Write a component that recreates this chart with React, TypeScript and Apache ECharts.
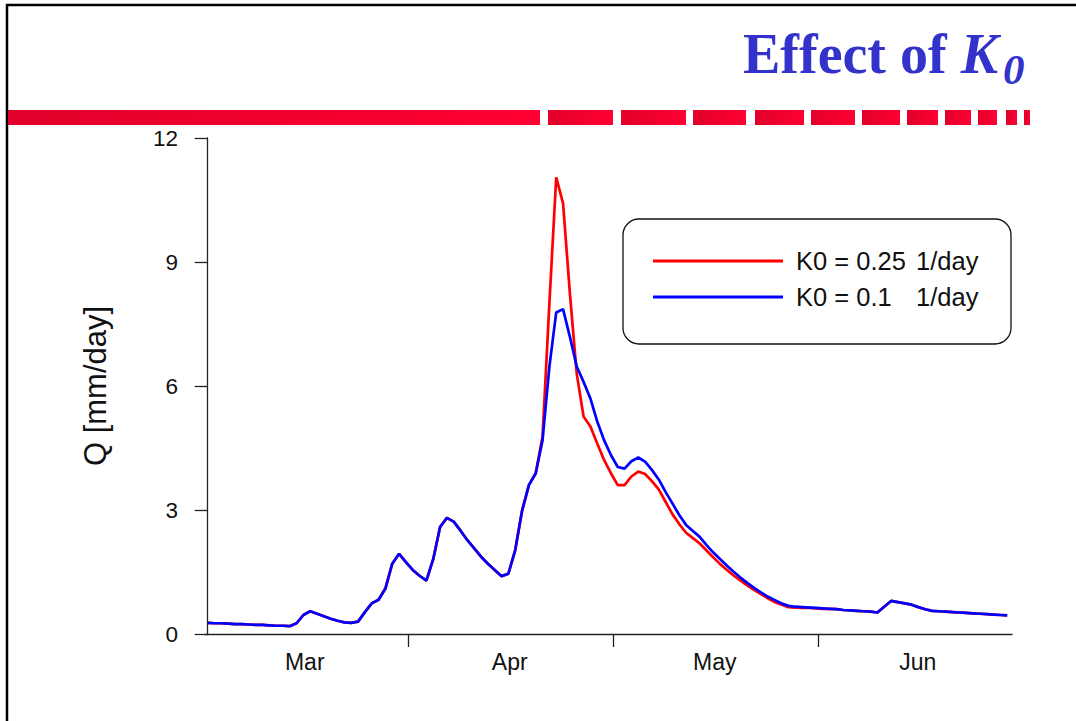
import React, { useEffect, useRef } from "react";
import * as echarts from "echarts";

// ---- data ----
const months = ["Mar", "Apr", "May", "Jun"];
const monthLabelDays = [14.2, 44.2, 74.2, 103.9];
const monthBoundaryDays = [29.3, 59.3, 89.3];
const yTicks = [0, 3, 6, 9, 12];

const seriesNames = ["K0 = 0.25 1/day", "K0 = 0.1   1/day"];

// daily discharge, K0 = 0.25 1/day
const qK025 = [
  0.27, 0.26, 0.26, 0.25, 0.24, 0.24, 0.23, 0.22, 0.22, 0.21,
  0.2, 0.2, 0.19, 0.26, 0.46, 0.55, 0.49, 0.43, 0.37, 0.32,
  0.28, 0.27, 0.3, 0.53, 0.74, 0.83, 1.1, 1.7, 1.94, 1.74,
  1.55, 1.41, 1.29, 1.81, 2.59, 2.81, 2.72, 2.5, 2.27, 2.07,
  1.87, 1.7, 1.55, 1.4, 1.46, 2.03, 2.98, 3.6, 3.89, 4.78,
  8.0, 11.05, 10.42, 8.24, 6.3, 5.26, 5.02, 4.61, 4.21, 3.89,
  3.6, 3.6, 3.81, 3.93, 3.87, 3.7, 3.5, 3.2, 2.9, 2.66,
  2.45, 2.32, 2.19, 2.02, 1.85, 1.69, 1.55, 1.41, 1.29, 1.17,
  1.06, 0.96, 0.86, 0.77, 0.71, 0.65, 0.64, 0.63, 0.63, 0.62,
  0.61, 0.61, 0.6, 0.58, 0.57, 0.56, 0.55, 0.54, 0.52, 0.66,
  0.8, 0.77, 0.74, 0.71, 0.65, 0.6, 0.56, 0.55, 0.54, 0.53,
  0.52, 0.51, 0.5, 0.49, 0.48, 0.47, 0.46, 0.45,
];

// daily discharge, K0 = 0.1 1/day
const qK01 = [
  0.27, 0.26, 0.26, 0.25, 0.24, 0.24, 0.23, 0.22, 0.22, 0.21,
  0.2, 0.2, 0.19, 0.26, 0.46, 0.55, 0.49, 0.43, 0.37, 0.32,
  0.28, 0.27, 0.3, 0.53, 0.74, 0.83, 1.1, 1.7, 1.94, 1.74,
  1.55, 1.41, 1.29, 1.81, 2.59, 2.81, 2.72, 2.5, 2.27, 2.07,
  1.87, 1.7, 1.55, 1.4, 1.46, 2.03, 2.98, 3.6, 3.89, 4.69,
  6.47, 7.78, 7.86, 7.19, 6.47, 6.1, 5.7, 5.14, 4.69, 4.33,
  4.04, 4.0, 4.18, 4.27, 4.17, 3.97, 3.74, 3.44, 3.16, 2.88,
  2.64, 2.49, 2.35, 2.15, 1.97, 1.81, 1.65, 1.5, 1.36, 1.23,
  1.11, 1.0, 0.9, 0.82, 0.74, 0.68, 0.66, 0.65, 0.64, 0.63,
  0.62, 0.61, 0.6, 0.58, 0.57, 0.56, 0.55, 0.54, 0.52, 0.66,
  0.8, 0.77, 0.74, 0.71, 0.65, 0.6, 0.56, 0.55, 0.54, 0.53,
  0.52, 0.51, 0.5, 0.49, 0.48, 0.47, 0.46, 0.45,
];

// ---- layout constants (not data) ----
const dashSegments = [
  [8, 540], [548, 613], [621, 686], [693, 746], [755, 804], [811, 855],
  [862, 900], [907, 938], [945, 971], [978, 997], [1006, 1017], [1024, 1030],
];

const SANS = "Liberation Sans, Arial, Helvetica, sans-serif";
const SERIF = "Liberation Serif, Times New Roman, serif";

export default function App() {
  const ref = useRef<HTMLDivElement>(null);

  useEffect(() => {
    if (!ref.current) return;
    const chart = echarts.init(ref.current, undefined, { renderer: "svg" });

    const toPairs = (arr: number[]) => arr.map((v, i) => [i, v]);

    const dashEls = dashSegments.map(([x0, x1]) => ({
      type: "rect",
      shape: { x: x0, y: 110, width: x1 - x0, height: 15 },
      style: {
        fill: new echarts.graphic.LinearGradient(0, 0, 1, 0, [
          { offset: 0, color: "#e2002b" },
          { offset: 1, color: "#ff0033" },
        ]),
      },
      silent: true,
    }));

    const option: any = {
      animation: false,
      backgroundColor: "#ffffff",
      grid: { left: 205, top: 138, right: 64, bottom: 87, containLabel: false },
      xAxis: {
        type: "value",
        min: -0.4,
        max: 117.7,
        axisLine: { show: true, lineStyle: { color: "#222", width: 1.3 } },
        axisTick: {
          show: true,
          customValues: monthBoundaryDays,
          length: 13,
          lineStyle: { color: "#222", width: 1.3 },
        },
        axisLabel: {
          customValues: monthLabelDays,
          formatter: (v: number) => {
            const i = monthLabelDays.findIndex((d) => Math.abs(d - v) < 0.01);
            return i >= 0 ? months[i] : "";
          },
          fontFamily: SANS,
          fontSize: 23,
          color: "#111",
          margin: 16,
        },
        splitLine: { show: false },
      },
      yAxis: {
        type: "value",
        min: yTicks[0],
        max: yTicks[yTicks.length - 1],
        interval: 3,
        name: "Q [mm/day]",
        nameLocation: "middle",
        nameGap: 94,
        nameTextStyle: {
          fontFamily: SANS,
          fontSize: 31,
          color: "#111",
        },
        axisLine: { show: true, lineStyle: { color: "#222", width: 1.3 } },
        axisTick: { show: true, length: 13, lineStyle: { color: "#222", width: 1.3 } },
        axisLabel: {
          fontFamily: SANS,
          fontSize: 22.5,
          color: "#111",
          margin: 27,
        },
        splitLine: { show: false },
      },
      legend: {
        orient: "vertical",
        left: 653,
        top: 248,
        padding: 0,
        itemGap: 10,
        itemWidth: 130,
        itemHeight: 3,
        icon: "rect",
        data: seriesNames,
        formatter: (name: string) => {
          const idx = name.lastIndexOf("1/day");
          const first = name.slice(0, idx).trim();
          return `{a|${first}}{b|1/day}`;
        },
        textStyle: {
          padding: [0, 0, 0, 8],
          rich: {
            a: { width: 120, fontFamily: SANS, fontSize: 25.5, lineHeight: 26, color: "#111" },
            b: { fontFamily: SANS, fontSize: 25.5, lineHeight: 26, color: "#111" },
          },
        },
      },
      series: [
        {
          name: seriesNames[0],
          type: "line",
          data: toPairs(qK025),
          symbol: "none",
          color: "#ff0000",
          lineStyle: { color: "#ff0000", width: 2.7 },
          z: 2,
        },
        {
          name: seriesNames[1],
          type: "line",
          data: toPairs(qK01),
          symbol: "none",
          color: "#0000ff",
          lineStyle: { color: "#0000ff", width: 2.7 },
          z: 3,
        },
      ],
      graphic: [
        // slide frame
        {
          type: "line",
          shape: { x1: 6, y1: 5, x2: 1076, y2: 5 },
          style: { stroke: "#000", lineWidth: 2.5 },
          silent: true,
        },
        {
          type: "line",
          shape: { x1: 7, y1: 4, x2: 7, y2: 721 },
          style: { stroke: "#000", lineWidth: 2.5 },
          silent: true,
        },
        ...dashEls,
        // title
        {
          type: "text",
          x: 743,
          y: 54,
          style: {
            text: "{a|Effect of }{b|K}",
            verticalAlign: "middle",
            align: "left",
            rich: {
              a: { fontFamily: SERIF, fontWeight: "bold", fontSize: 56, fill: "#3333cc" },
              b: {
                fontFamily: SERIF,
                fontWeight: "bold",
                fontStyle: "italic",
                fontSize: 56,
                fill: "#3333cc",
              },
            },
          },
          silent: true,
        },
        {
          type: "text",
          x: 1003,
          y: 69,
          style: {
            text: "0",
            verticalAlign: "middle",
            align: "left",
            fontFamily: SERIF,
            fontWeight: "bold",
            fontStyle: "italic",
            fontSize: 43,
            fill: "#3333cc",
          },
          silent: true,
        },
        // legend box
        {
          type: "rect",
          shape: { x: 623, y: 219, width: 388, height: 125, r: 16 },
          style: { fill: "none", stroke: "#111", lineWidth: 1.3 },
          silent: true,
        },
      ],
    };

    chart.setOption(option);
    return () => chart.dispose();
  }, []);

  return (
    <div
      ref={ref}
      style={{ position: "fixed", left: 0, top: 0, width: 1076, height: 721 }}
    />
  );
}
